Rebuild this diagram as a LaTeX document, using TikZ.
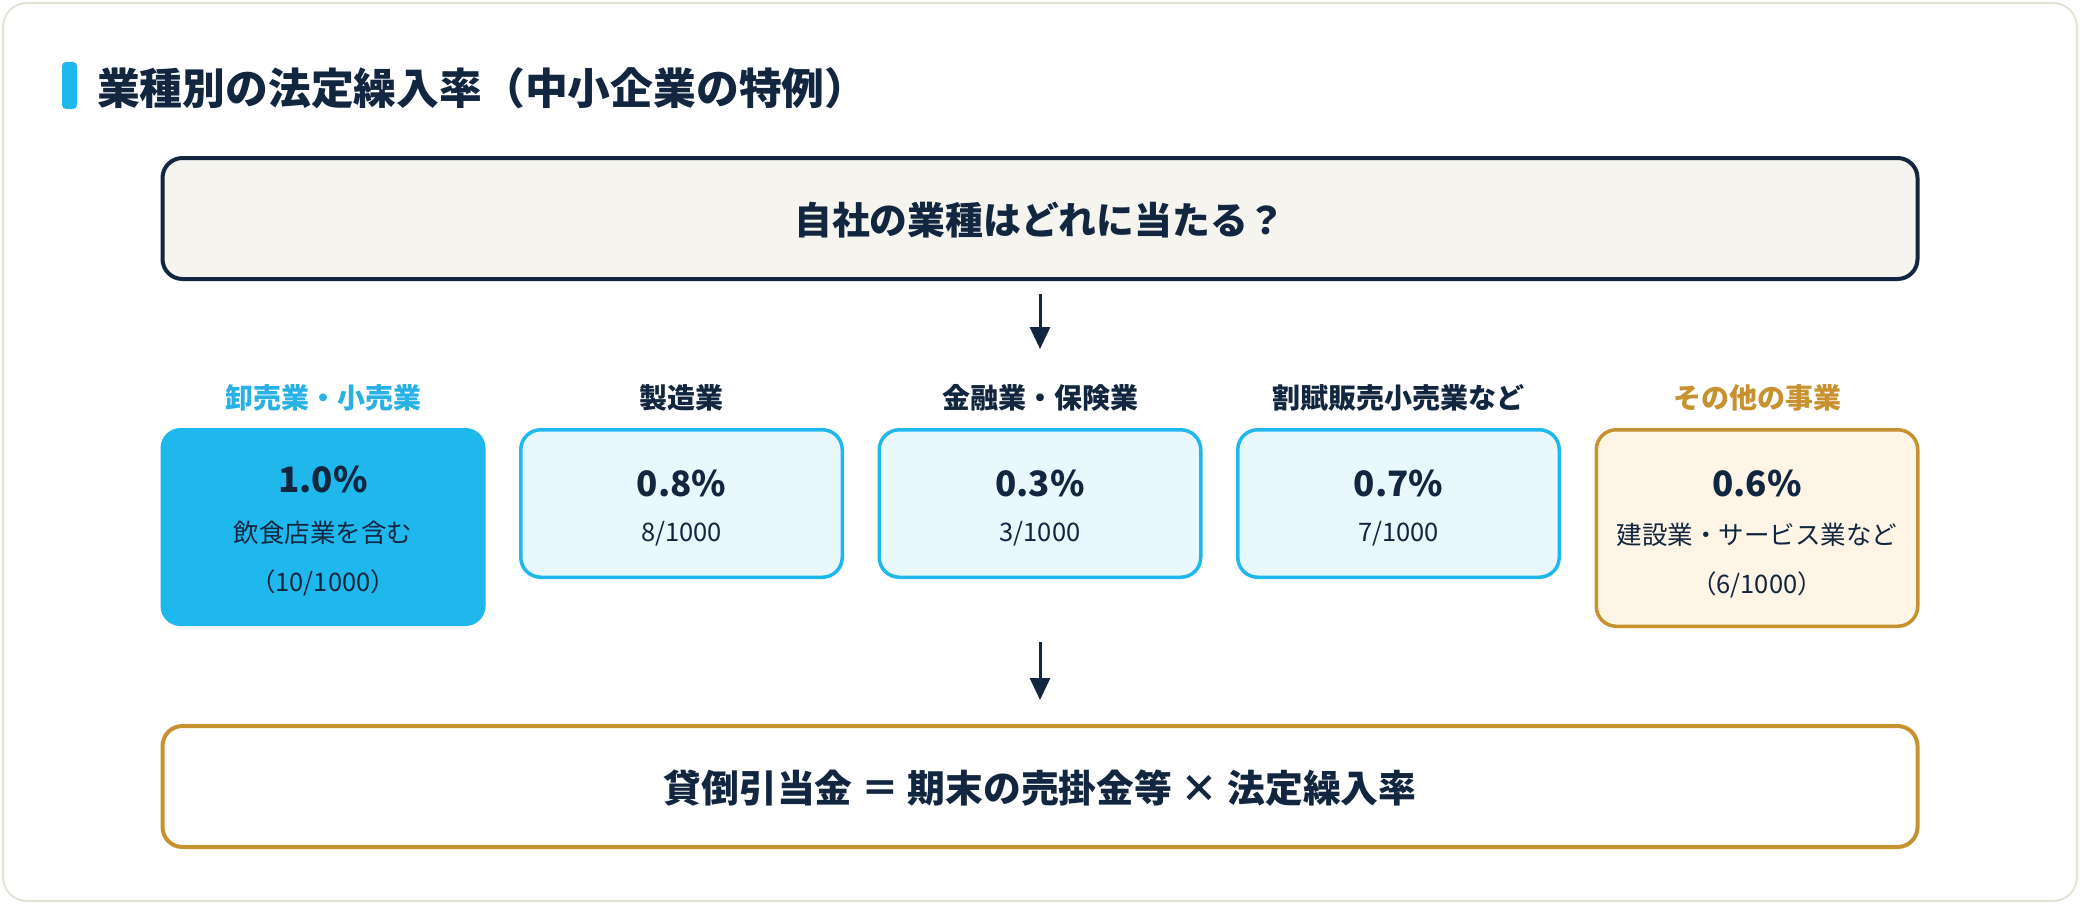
\documentclass[tikz,border=0pt]{standalone}
\usepackage{fontspec}
\setmainfont{Noto Sans CJK JP}
\usetikzlibrary{arrows.meta}
\definecolor{navy}{HTML}{12263F}
\definecolor{cyanmain}{HTML}{1FB8EC}
\definecolor{cyanlabel}{HTML}{29B0E4}
\definecolor{cyanfill}{HTML}{E9F8FD}
\definecolor{gold}{HTML}{C8912F}
\definecolor{goldfill}{HTML}{FEF5E6}
\definecolor{topfill}{HTML}{F5F4EF}
\definecolor{cardline}{HTML}{E6E3D6}
\newcommand{\fsz}[1]{\fontsize{#1}{#1}\selectfont}
\begin{document}
\begin{tikzpicture}[x=0.5pt,y=-0.5pt,
  every node/.style={inner sep=0pt, outer sep=0pt, text=navy},
  wide/.style={line width=2pt, rounded corners=10pt, minimum width=877.5pt, minimum height=60.5pt},
  ratebox/.style={line width=1.75pt, rounded corners=10pt, minimum width=160.75pt},
  catlabel/.style={font=\bfseries\fsz{14pt}},
  pct/.style={font=\bfseries\fsz{17.5pt}},
  sub/.style={font=\fsz{12.75pt}},
  bigtext/.style={font=\bfseries\fsz{18.9pt}},
  flow/.style={draw=navy, line width=1.5pt, -{Triangle[width=10pt,length=11pt]}}]
\useasboundingbox (0,0) rectangle (2080,904);
\fill[white] (0,0) rectangle (2080,904);
\draw[cardline, fill=white, rounded corners=12pt, line width=1pt] (3,3) rectangle (2077,901);
\fill[cyanmain, rounded corners=2pt] (62,62) rectangle (77,109);
\node[anchor=west, font=\bfseries\fsz{21.4pt}] (title) at (97,88) {業種別の法定繰入率（中小企業の特例）};

% question box
\node[wide, draw=navy, fill=topfill] (q) at (1040,218.5) {};
\node[bigtext] (qt) at (1040,220) {自社の業種はどれに当たる？};

\coordinate (a1s) at (1040,294);
\coordinate (a1e) at (1040,349);
\draw[flow] (a1s) -- (a1e);

% labels
\node[catlabel, text=cyanlabel] (l1) at (323,398) {卸売業・小売業};
\node[catlabel] (l2) at (681.5,398) {製造業};
\node[catlabel] (l3) at (1040,398) {金融業・保険業};
\node[catlabel] (l4) at (1398.5,398) {割賦販売小売業など};
\node[catlabel, text=gold] (l5) at (1757,398) {その他の事業};

% boxes
\node[fill=cyanmain, rounded corners=10pt, minimum width=162.5pt, minimum height=99pt] (b1) at (323,527) {};
\node[ratebox, draw=cyanmain, fill=cyanfill, minimum height=73.75pt] (b2) at (681.5,503.5) {};
\node[ratebox, draw=cyanmain, fill=cyanfill, minimum height=73.75pt] (b3) at (1040,503.5) {};
\node[ratebox, draw=cyanmain, fill=cyanfill, minimum height=73.75pt] (b4) at (1398.5,503.5) {};
\node[ratebox, draw=gold, fill=goldfill, minimum height=98.25pt] (b5) at (1757,528) {};

\node[pct] (p1) at (323,479) {1.0\%};
\node[sub] (s1) at (323,533) {飲食店業を含む};
\node[sub] (t1) at (323,583) {（10/1000）};

\node[pct] (p2) at (681.5,483) {0.8\%};
\node[sub] (s2) at (681.5,534) {8/1000};

\node[pct] (p3) at (1040,483) {0.3\%};
\node[sub] (s3) at (1040,534) {3/1000};

\node[pct] (p4) at (1398.5,483) {0.7\%};
\node[sub] (s4) at (1398.5,534) {7/1000};

\node[pct] (p5) at (1757,483) {0.6\%};
\node[sub] (s5) at (1757,535) {建設業・サービス業など};
\node[sub] (t5) at (1757,585) {（6/1000）};

\coordinate (a2s) at (1040,642);
\coordinate (a2e) at (1040,700);
\draw[flow] (a2s) -- (a2e);

% formula box
\node[wide, draw=gold, fill=white] (f) at (1040,786.5) {};
\node[bigtext] (ft) at (1040,788) {貸倒引当金 ＝ 期末の売掛金等 × 法定繰入率};
\end{tikzpicture}
\end{document}
